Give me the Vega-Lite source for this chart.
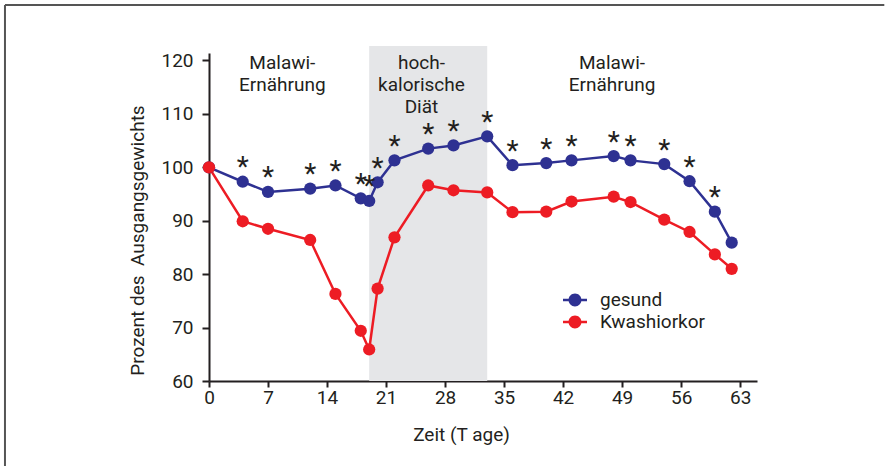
{
  "$schema": "https://vega.github.io/schema/vega-lite/v6.json",
  "autosize": {"type": "none"},
  "padding": {"left": 209, "top": 53, "right": 128, "bottom": 85},
  "width": 548,
  "height": 328,
  "config": {"font": "Roboto", "view": {"stroke": null}, "text": {"font": "Roboto"}},
  "datasets": {
    "series": [
      {"day": 0, "group": "gesund", "value": 100, "sig": ""},
      {"day": 4, "group": "gesund", "value": 97.3, "sig": "*"},
      {"day": 7, "group": "gesund", "value": 95.4, "sig": "*"},
      {"day": 12, "group": "gesund", "value": 96.0, "sig": "*"},
      {"day": 15, "group": "gesund", "value": 96.6, "sig": "*"},
      {"day": 18, "group": "gesund", "value": 94.2, "sig": "*"},
      {"day": 19, "group": "gesund", "value": 93.7, "sig": "*"},
      {"day": 20, "group": "gesund", "value": 97.2, "sig": "*"},
      {"day": 22, "group": "gesund", "value": 101.3, "sig": "*"},
      {"day": 26, "group": "gesund", "value": 103.5, "sig": "*"},
      {"day": 29, "group": "gesund", "value": 104.1, "sig": "*"},
      {"day": 33, "group": "gesund", "value": 105.8, "sig": "*"},
      {"day": 36, "group": "gesund", "value": 100.4, "sig": "*"},
      {"day": 40, "group": "gesund", "value": 100.8, "sig": "*"},
      {"day": 43, "group": "gesund", "value": 101.3, "sig": "*"},
      {"day": 48, "group": "gesund", "value": 102.1, "sig": "*"},
      {"day": 50, "group": "gesund", "value": 101.3, "sig": "*"},
      {"day": 54, "group": "gesund", "value": 100.6, "sig": "*"},
      {"day": 57, "group": "gesund", "value": 97.4, "sig": "*"},
      {"day": 60, "group": "gesund", "value": 91.7, "sig": "*"},
      {"day": 62, "group": "gesund", "value": 85.9, "sig": ""},
      {"day": 0, "group": "Kwashiorkor", "value": 100, "sig": ""},
      {"day": 4, "group": "Kwashiorkor", "value": 89.9, "sig": ""},
      {"day": 7, "group": "Kwashiorkor", "value": 88.5, "sig": ""},
      {"day": 12, "group": "Kwashiorkor", "value": 86.4, "sig": ""},
      {"day": 15, "group": "Kwashiorkor", "value": 76.3, "sig": ""},
      {"day": 18, "group": "Kwashiorkor", "value": 69.4, "sig": ""},
      {"day": 19, "group": "Kwashiorkor", "value": 65.9, "sig": ""},
      {"day": 20, "group": "Kwashiorkor", "value": 77.3, "sig": ""},
      {"day": 22, "group": "Kwashiorkor", "value": 86.9, "sig": ""},
      {"day": 26, "group": "Kwashiorkor", "value": 96.6, "sig": ""},
      {"day": 29, "group": "Kwashiorkor", "value": 95.7, "sig": ""},
      {"day": 33, "group": "Kwashiorkor", "value": 95.3, "sig": ""},
      {"day": 36, "group": "Kwashiorkor", "value": 91.6, "sig": ""},
      {"day": 40, "group": "Kwashiorkor", "value": 91.7, "sig": ""},
      {"day": 43, "group": "Kwashiorkor", "value": 93.6, "sig": ""},
      {"day": 48, "group": "Kwashiorkor", "value": 94.5, "sig": ""},
      {"day": 50, "group": "Kwashiorkor", "value": 93.5, "sig": ""},
      {"day": 54, "group": "Kwashiorkor", "value": 90.2, "sig": ""},
      {"day": 57, "group": "Kwashiorkor", "value": 87.9, "sig": ""},
      {"day": 60, "group": "Kwashiorkor", "value": 83.7, "sig": ""},
      {"day": 62, "group": "Kwashiorkor", "value": 81.0, "sig": ""}
    ],
    "phases": [
      {"start": 19, "end": 33}
    ],
    "labels": [
      {"day": 8.7, "text": ["Malawi-", "Ernährung"]},
      {"day": 25.2, "text": ["hoch-", "kalorische", "Diät"]},
      {"day": 47.8, "text": ["Malawi-", "Ernährung"]}
    ]
  },
  "layer": [
    {
      "data": {"values": [{}]},
      "mark": {"type": "rule", "color": "#555555", "strokeWidth": 2, "clip": false},
      "encoding": {
        "x": {"datum": -24.2, "type": "quantitative", "scale": {"domain": [0, 65]}},
        "x2": {"datum": 80.1},
        "y": {"datum": 130.4, "type": "quantitative", "scale": {"domain": [60, 121.4]}}
      }
    },
    {
      "data": {"values": [{}]},
      "mark": {"type": "rule", "color": "#555555", "strokeWidth": 2, "clip": false},
      "encoding": {
        "x": {"datum": -24.2, "type": "quantitative"},
        "y": {"datum": 130.4, "type": "quantitative"},
        "y2": {"datum": 40}
      }
    },
    {
      "data": {"name": "phases"},
      "mark": {"type": "rect", "color": "#e5e6e8", "clip": false},
      "encoding": {
        "x": {"field": "start", "type": "quantitative"},
        "x2": {"field": "end"},
        "y": {"datum": 60, "type": "quantitative"},
        "y2": {"datum": 122.7}
      }
    },
    {
      "data": {"name": "series"},
      "mark": {"type": "line", "strokeWidth": 2.5, "point": {"filled": true, "size": 150, "opacity": 1}},
      "encoding": {
        "x": {
          "field": "day", "type": "quantitative",
          "scale": {"domain": [0, 65], "nice": false, "zero": false},
          "axis": {
            "values": [0, 7, 14, 21, 28, 35, 42, 49, 56, 63],
            "title": "Zeit (T age)",
            "grid": false,
            "labelFlush": false,
            "domainColor": "#231f20", "domainWidth": 2,
            "tickColor": "#231f20", "tickWidth": 2, "tickSize": 6,
            "labelFont": "Roboto", "labelFontSize": 19, "labelColor": "#231f20",
            "labelBaseline": "alphabetic", "labelPadding": 16,
            "titleFont": "Roboto", "titleFontSize": 19, "titleFontWeight": "normal", "titleColor": "#231f20",
            "titleX": 252, "titleY": 59, "titleBaseline": "alphabetic", "titleAlign": "center"
          }
        },
        "y": {
          "field": "value", "type": "quantitative",
          "scale": {"domain": [60, 121.4], "nice": false, "zero": false},
          "axis": {
            "values": [60, 70, 80, 90, 100, 110, 120],
            "title": "Prozent des\u00a0\u00a0Ausgangsgewichts",
            "grid": false,
            "labelFlush": false,
            "domainColor": "#231f20", "domainWidth": 2,
            "tickColor": "#231f20", "tickWidth": 2, "tickSize": 7,
            "labelFont": "Roboto", "labelFontSize": 19, "labelColor": "#231f20",
            "labelPadding": 9,
            "titleFont": "Roboto", "titleFontSize": 19, "titleFontWeight": "normal", "titleColor": "#231f20",
            "titleX": -66, "titleY": 187, "titleBaseline": "alphabetic", "titleAlign": "center", "titleAngle": -90
          }
        },
        "color": {
          "field": "group", "type": "nominal",
          "scale": {"domain": ["gesund", "Kwashiorkor"], "range": ["#2e3192", "#ed1c24"]},
          "legend": {
            "title": null,
            "orient": "none", "legendX": 354, "legendY": 235,
            "padding": 0,
            "symbolType": "M-1,-0.11 L1,-0.11 L1,0.11 L-1,0.11 Z M-0.54,0 A0.54,0.54 0 1,1 0.54,0 A0.54,0.54 0 1,1 -0.54,0 Z",
            "symbolSize": 576,
            "rowPadding": -2,
            "labelOffset": 13,
            "labelFont": "Roboto", "labelFontSize": 19, "labelColor": "#231f20",
            "encode": {
              "symbols": {
                "update": {
                  "fill": {"scale": "color", "field": "value"},
                  "stroke": {"value": "transparent"},
                  "strokeWidth": {"value": 0},
                  "opacity": {"value": 1}
                }
              }
            }
          }
        }
      }
    },
    {
      "data": {"name": "series"},
      "transform": [{"filter": "datum.sig === '*'"}],
      "mark": {"type": "text", "fontSize": 28, "color": "#231f20", "baseline": "alphabetic", "align": "center", "dy": -5.5},
      "encoding": {
        "x": {"field": "day", "type": "quantitative"},
        "y": {"field": "value", "type": "quantitative"},
        "text": {"field": "sig"}
      }
    },
    {
      "data": {"name": "labels"},
      "mark": {"type": "text", "fontSize": 19, "color": "#231f20", "baseline": "alphabetic", "align": "center", "lineHeight": 22},
      "encoding": {
        "x": {"field": "day", "type": "quantitative"},
        "y": {"datum": 118.35, "type": "quantitative"},
        "text": {"field": "text"}
      }
    }
  ]
}
